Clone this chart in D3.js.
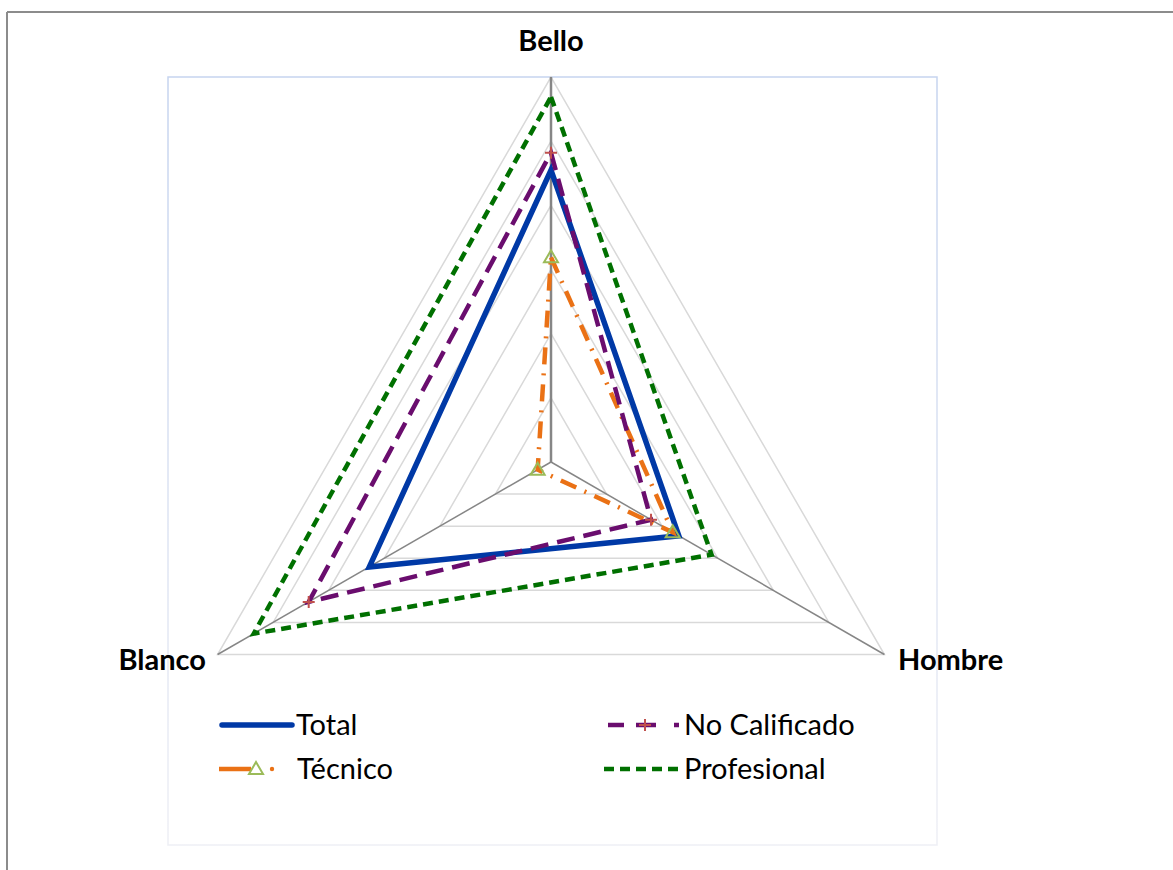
<!DOCTYPE html>
<html>
<head>
<meta charset="utf-8">
<script src="https://cdn.jsdelivr.net/npm/d3@7"></script>
<style>
  html, body { margin: 0; padding: 0; background: #fff; }
  svg { display: block; }
  text { font-family: Lato, "Open Sans", sans-serif; }
</style>
</head>
<body>
<svg id="chart" width="1173" height="870"></svg>
<script>
// ---- data ----
const axes = ["Bello", "Hombre", "Blanco"];
const totalValues = [45.5, 23.0, 32.7];
const noCalificadoValues = [48.2, 18.0, 43.6];
const tecnicoValues = [31.9, 21.9, 2.4];
const profesionalValues = [56.9, 28.9, 53.5];
const seriesNames = ["Total", "No Calificado", "Técnico", "Profesional"];
const ringTicks = [10, 20, 30, 40, 50, 60];
const maxValue = 60;

const svg = d3.select("#chart");
const W = 1173, H = 870;

// outer frame (partial, as in reference)
svg.append("line").attr("x1", 7).attr("y1", 12).attr("x2", W).attr("y2", 12)
  .attr("stroke", "#8c8c8c").attr("stroke-width", 2);
svg.append("line").attr("x1", 7).attr("y1", 12).attr("x2", 7).attr("y2", H)
  .attr("stroke", "#8c8c8c").attr("stroke-width", 2);

// plot area with gradient border
const defs = svg.append("defs");
const grad = defs.append("linearGradient").attr("id", "pa").attr("x1", 0).attr("y1", 0).attr("x2", 0).attr("y2", 1);
grad.append("stop").attr("offset", "0%").attr("stop-color", "#c6d4ef");
grad.append("stop").attr("offset", "100%").attr("stop-color", "#eeeff5");
svg.append("rect").attr("x", 168).attr("y", 77).attr("width", 769).attr("height", 768)
  .attr("fill", "none").attr("stroke", "url(#pa)").attr("stroke-width", 1.5);

const cx = 551, cy = 462, R = 385;
const r = d3.scaleLinear().domain([0, maxValue]).range([0, R]);
const angle = d3.scalePoint().domain(axes).range([0, 2 * Math.PI * (axes.length - 1) / axes.length]);

function pt(axis, v) {
  const a = angle(axis) - Math.PI / 2;
  return [cx + r(v) * Math.cos(a), cy + r(v) * Math.sin(a)];
}

const g = svg.append("g");

// grid rings
ringTicks.forEach(t => {
  g.append("path")
    .attr("d", d3.line()(axes.map(a => pt(a, t))) + "Z")
    .attr("fill", "none").attr("stroke", "#d9d9d9").attr("stroke-width", 1.5);
});
// spokes
axes.forEach(a => {
  const p = pt(a, maxValue);
  g.append("line").attr("x1", cx).attr("y1", cy).attr("x2", p[0]).attr("y2", p[1])
    .attr("stroke", "#868686").attr("stroke-width", a === "Bello" ? 2.5 : 1.5);
});

// axis labels
svg.append("text").attr("x", cx).attr("y", 51).attr("text-anchor", "middle")
  .attr("font-size", 29).attr("font-weight", "bold").attr("fill", "#000").text(axes[0]);
svg.append("text").attr("x", 898).attr("y", 670).attr("text-anchor", "start")
  .attr("font-size", 29).attr("font-weight", "bold").attr("fill", "#000").text(axes[1]);
svg.append("text").attr("x", 206).attr("y", 670).attr("text-anchor", "end")
  .attr("font-size", 29).attr("font-weight", "bold").attr("fill", "#000").text(axes[2]);

const styles = {
  "Total": { values: totalValues, color: "#0039a6", width: 5.5, dash: null, marker: null },
  "No Calificado": { values: noCalificadoValues, color: "#6a0d6e", width: 4.5, dash: "18,9", marker: "plus" },
  "Técnico": { values: tecnicoValues, color: "#ea7115", width: 4.5, dash: "17,9,2,9", marker: "tri" },
  "Profesional": { values: profesionalValues, color: "#007000", width: 4.5, dash: "10,6", marker: null }
};
const drawOrder = ["Profesional", "Total", "Técnico", "No Calificado"];

const lineGen = d3.line();
function markerAt(sel, type, x, y) {
  if (type === "plus") {
    sel.append("path").attr("d", `M${x - 6},${y}H${x + 6}M${x},${y - 6}V${y + 6}`)
      .attr("stroke", "#c0504d").attr("stroke-width", 2).attr("fill", "none");
  } else if (type === "tri") {
    sel.append("path").attr("d", `M${x},${y - 7}L${x + 7},${y + 5}L${x - 7},${y + 5}Z`)
      .attr("stroke", "#9bbb59").attr("stroke-width", 2).attr("fill", "none");
  }
}

drawOrder.forEach(name => {
  const s = styles[name];
  const pts = axes.map((a, i) => pt(a, s.values[i]));
  g.append("path").attr("d", lineGen(pts) + "Z")
    .attr("fill", "none").attr("stroke", s.color).attr("stroke-width", s.width)
    .attr("stroke-dasharray", s.dash).attr("stroke-linejoin", "miter");
});
drawOrder.forEach(name => {
  const s = styles[name];
  if (!s.marker) return;
  axes.forEach((a, i) => {
    const p = pt(a, s.values[i]);
    markerAt(g, s.marker, p[0], p[1]);
  });
});

// legend
const leg = svg.append("g");
const legendItems = [
  { name: "Total", x1: 222, x2: 292, y: 725, tx: 296 },
  { name: "No Calificado", x1: 604, x2: 680, y: 725, tx: 684 },
  { name: "Técnico", x1: 219, x2: 251, y: 769, tx: 297 },
  { name: "Profesional", x1: 604, x2: 680, y: 769, tx: 684 }
];
legendItems.forEach(it => {
  const s = styles[it.name];
  if (it.name === "Técnico") {
    leg.append("line").attr("x1", it.x1).attr("y1", it.y).attr("x2", it.x2).attr("y2", it.y)
      .attr("stroke", s.color).attr("stroke-width", s.width);
    leg.append("circle").attr("cx", 272).attr("cy", it.y).attr("r", 2.2).attr("fill", s.color);
    markerAt(leg, "tri", 256, it.y);
  } else if (it.name === "No Calificado") {
    leg.append("line").attr("x1", 608).attr("y1", it.y).attr("x2", 624).attr("y2", it.y)
      .attr("stroke", s.color).attr("stroke-width", s.width);
    leg.append("line").attr("x1", 636).attr("y1", it.y).attr("x2", 656).attr("y2", it.y)
      .attr("stroke", s.color).attr("stroke-width", s.width);
    leg.append("line").attr("x1", 674).attr("y1", it.y).attr("x2", 679).attr("y2", it.y)
      .attr("stroke", s.color).attr("stroke-width", s.width);
    markerAt(leg, "plus", 645, it.y);
  } else {
    leg.append("line").attr("x1", it.x1).attr("y1", it.y).attr("x2", it.x2).attr("y2", it.y)
      .attr("stroke", s.color).attr("stroke-width", s.width)
      .attr("stroke-dasharray", s.dash).attr("stroke-linecap", it.name === "Total" ? "round" : "butt");
  }
  leg.append("text").attr("x", it.tx).attr("y", it.y + 10).attr("font-size", 29)
    .attr("fill", "#000").text(it.name);
});
</script>
</body>
</html>
